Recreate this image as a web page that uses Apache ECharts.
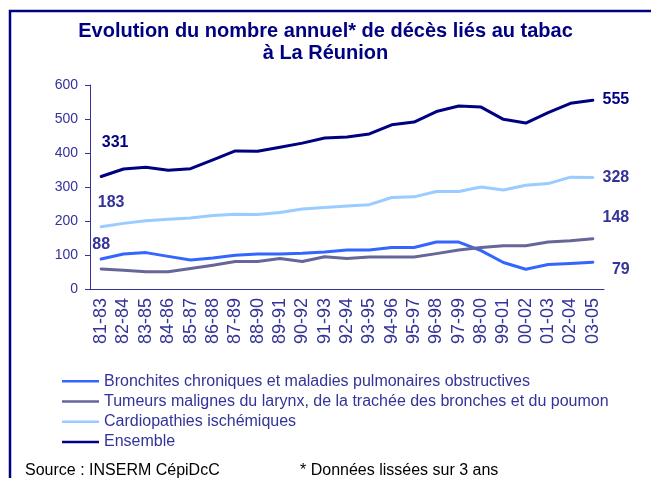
<!DOCTYPE html>
<html>
<head>
<meta charset="utf-8">
<script src="https://cdn.jsdelivr.net/npm/echarts@6/dist/echarts.min.js"></script>
<style>
  html, body { margin: 0; padding: 0; background: #fff; }
  #chart { width: 651px; height: 478px; }
</style>
</head>
<body>
<div id="chart"></div>
<script>
const categories = ["81-83", "82-84", "83-85", "84-86", "85-87", "86-88", "87-89", "88-90", "89-91", "90-92", "91-93", "92-94",
  "93-95", "94-96", "95-97", "96-98", "97-99", "98-00", "99-01", "00-02", "01-03", "02-04", "03-05"];

const bronchites = [88, 103, 107, 96, 85, 91, 99, 103, 103, 105, 109, 115, 115, 122, 122, 138, 138, 113, 78, 58, 72, 75, 79];
const tumeurs = [59, 55, 51, 51, 60, 70, 81, 81, 90, 81, 95, 90, 94, 94, 94, 104, 115, 122, 127, 127, 138, 142, 148];
const cardio = [183, 193, 201, 205, 209, 216, 220, 219, 225, 235, 240, 244, 248, 269, 271, 287, 287, 300, 291, 305, 310, 329, 328];
const ensemble = [331, 353, 358, 349, 354, 380, 406, 405, 417, 429, 444, 447, 456, 483, 491, 522, 538, 535, 499, 488, 519, 546, 555];

const seriesNames = [
  "Bronchites chroniques et maladies pulmonaires obstructives",
  "Tumeurs malignes du larynx, de la trachée des bronches et du poumon",
  "Cardiopathies ischémiques",
  "Ensemble"
];
const yTicks = [0, 100, 200, 300, 400, 500, 600];

const FONT = "Liberation Sans, Arial, sans-serif";
const AXIS = "#333399";

// value labels at the first / last points
function mark(values, idx, offset, color) {
  return {
    coord: [categories[idx], values[idx]],
    value: values[idx],
    label: { offset: offset, color: color }
  };
}

function line(name, values, color, marks) {
  return {
    name: name,
    type: "line",
    data: values,
    symbol: "none",
    lineStyle: { color: color, width: 3, cap: "round", join: "round" },
    itemStyle: { color: color },
    markPoint: {
      symbol: "circle",
      symbolSize: 1,
      itemStyle: { color: "rgba(0,0,0,0)" },
      label: {
        show: true,
        position: "inside",
        formatter: "{c}",
        fontFamily: FONT,
        fontSize: 16,
        fontWeight: "bold"
      },
      data: marks
    }
  };
}

const last = categories.length - 1;

const chart = echarts.init(document.getElementById("chart"), null, { renderer: "canvas" });

const option = {
  backgroundColor: "#fff",
  animation: false,
  title: {
    text: "Evolution du nombre annuel* de décès liés au tabac\nà La Réunion",
    left: "center",
    top: 15,
    textStyle: { fontFamily: FONT, fontSize: 20, fontWeight: "bold", color: "#000080", lineHeight: 22 }
  },
  legend: {
    orient: "vertical",
    left: 57,
    top: 366,
    icon: "rect",
    itemWidth: 37,
    itemHeight: 2.5,
    itemGap: 0,
    textStyle: { fontFamily: FONT, fontSize: 16, color: AXIS, lineHeight: 20.3 },
    data: seriesNames
  },
  grid: { left: 90, right: 47, top: 85, bottom: 189 },
  xAxis: {
    type: "category",
    data: categories,
    boundaryGap: true,
    axisLine: { lineStyle: { color: AXIS, width: 1 } },
    axisTick: { length: 5, lineStyle: { color: AXIS } },
    axisLabel: { rotate: 90, interval: 0, margin: 9, fontFamily: FONT, fontSize: 18, color: AXIS }
  },
  yAxis: {
    type: "value",
    min: yTicks[0],
    max: yTicks[yTicks.length - 1],
    interval: 100,
    splitLine: { show: false },
    axisLine: { show: true, lineStyle: { color: AXIS, width: 1 } },
    axisTick: { show: true, length: 5, lineStyle: { color: AXIS } },
    axisLabel: { margin: 12, fontFamily: FONT, fontSize: 14, color: AXIS }
  },
  series: [
    line(seriesNames[0], bronchites, "#3366ff", [mark(bronchites, 0, [0, -14], AXIS), mark(bronchites, last, [28, 7], AXIS)]),
    line(seriesNames[1], tumeurs, "#666699", [mark(tumeurs, last, [23, -21], AXIS)]),
    line(seriesNames[2], cardio, "#99ccff", [mark(cardio, 0, [10, -24], AXIS), mark(cardio, last, [23, 0], AXIS)]),
    line(seriesNames[3], ensemble, "#000080", [mark(ensemble, 0, [14, -34], "#000080"), mark(ensemble, last, [23, -1], "#000080")])
  ],
  graphic: [
    {
      type: "rect",
      shape: { x: 10, y: 11, width: 700, height: 520 },
      style: { fill: null, stroke: "#000080", lineWidth: 2.5 },
      silent: true
    },
    {
      type: "text",
      left: 25,
      top: 463,
      style: { text: "Source : INSERM CépiDcC", font: "16px " + FONT, fill: "#000" }
    },
    {
      type: "text",
      left: 300,
      top: 463,
      style: { text: "* Données lissées sur 3 ans", font: "16px " + FONT, fill: "#000" }
    }
  ]
};

chart.setOption(option);
window.addEventListener("resize", () => chart.resize());
</script>
</body>
</html>
